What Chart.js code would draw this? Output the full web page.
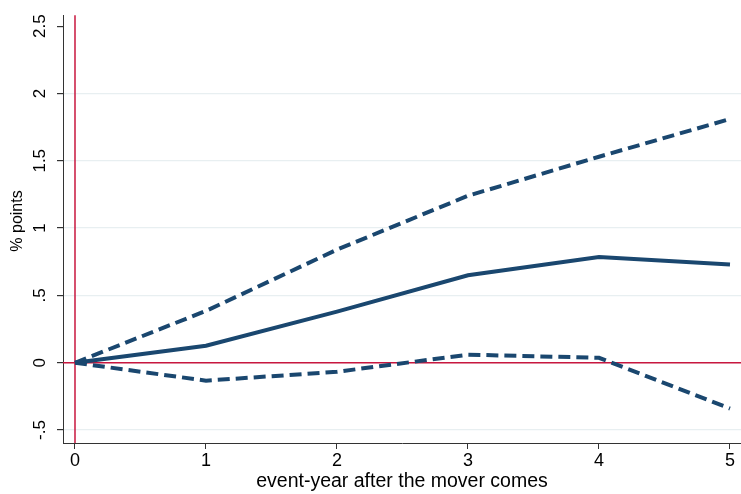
<!DOCTYPE html>
<html>
<head>
<meta charset="utf-8">
<script src="https://cdn.jsdelivr.net/npm/chart.js@4.4.0/dist/chart.umd.min.js"></script>
<style>
  html, body { margin: 0; padding: 0; background: #fff; }
  #wrap { width: 741px; height: 494px; }
</style>
</head>
<body>
<div id="wrap"><canvas id="c"></canvas></div>
<script>
// event years and estimates
const years = [0, 1, 2, 3, 4, 5];
const estimate = [0, 0.126, 0.38, 0.65, 0.785, 0.73];
const upperCI = [0, 0.385, 0.84, 1.24, 1.53, 1.81];
const lowerCI = [0, -0.133, -0.067, 0.06, 0.037, -0.34];

const xTicks = [0, 1, 2, 3, 4, 5];
const yTicks = [-0.5, 0, 0.5, 1, 1.5, 2, 2.5];
const yTickLabels = ['-.5', '0', '.5', '1', '1.5', '2', '2.5'];
const yTitle = '% points';
const xTitle = 'event-year after the mover comes';

const navy = '#1a476f';
const red = '#c8173f';
const font = 'Liberation Sans, Arial, Helvetica, sans-serif';

const pts = (ys) => years.map((x, i) => ({ x: x, y: ys[i] }));

// red reference lines at x=0 and y=0
const refLines = {
  id: 'refLines',
  beforeDatasetsDraw(chart) {
    const { ctx, chartArea, scales } = chart;
    const x0 = scales.x.getPixelForValue(0);
    const y0 = scales.y.getPixelForValue(0);
    ctx.save();
    ctx.strokeStyle = red;
    ctx.lineWidth = 1.5;
    ctx.beginPath();
    ctx.moveTo(x0, chartArea.top);
    ctx.lineTo(x0, chartArea.bottom);
    ctx.moveTo(chartArea.left, y0);
    ctx.lineTo(chartArea.right, y0);
    ctx.stroke();
    ctx.restore();
  }
};

// y title sits a little above the axis middle in the original
const yTitlePlugin = {
  id: 'yTitle',
  afterDraw(chart) {
    const ctx = chart.ctx;
    ctx.save();
    ctx.translate(18, 221);
    ctx.rotate(-Math.PI / 2);
    ctx.font = '16px ' + font;
    ctx.fillStyle = '#000';
    ctx.textAlign = 'center';
    ctx.textBaseline = 'middle';
    ctx.fillText(yTitle, 0, 0);
    ctx.restore();
  }
};

new Chart(document.getElementById('c'), {
  type: 'line',
  data: {
    datasets: [
      { data: pts(upperCI), borderColor: navy, borderWidth: 4, borderDash: [12, 6] },
      { data: pts(lowerCI), borderColor: navy, borderWidth: 4, borderDash: [12, 6] },
      { data: pts(estimate), borderColor: navy, borderWidth: 4 }
    ]
  },
  options: {
    responsive: true,
    maintainAspectRatio: false,
    animation: false,
    layout: { padding: { top: 10, right: 0, left: 0, bottom: 0 } },
    elements: { point: { radius: 0 }, line: { tension: 0, borderCapStyle: 'butt' } },
    plugins: { legend: { display: false }, tooltip: { enabled: false } },
    scales: {
      x: {
        type: 'linear',
        min: -0.0916,
        max: 5.084,
        afterBuildTicks: (s) => { s.ticks = xTicks.map(v => ({ value: v })); },
        afterFit: (s) => { s.height = 51; },
        grid: { drawOnChartArea: false, drawTicks: true, tickLength: 6, tickColor: '#333' },
        border: { display: true, color: '#333', width: 1 },
        ticks: { color: '#000', font: { family: font, size: 18 }, padding: 1, maxRotation: 0 },
        title: { display: true, text: xTitle, color: '#000',
                 font: { family: font, size: 19.5 }, padding: { top: 0, bottom: 1 } }
      },
      y: {
        min: -0.596,
        max: 2.581,
        afterBuildTicks: (s) => { s.ticks = yTicks.map(v => ({ value: v })); },
        afterFit: (s) => { s.width = 63; },
        grid: {
          color: (c) => (c.tick && c.tick.value === 2.5 ? 'rgba(0,0,0,0)' : '#e8eff1'),
          lineWidth: 1.2, drawTicks: true, tickLength: 6, tickColor: '#333'
        },
        border: { display: true, color: '#333', width: 1 },
        ticks: {
          color: '#000', font: { family: font, size: 17 }, padding: 5,
          minRotation: 90, maxRotation: 90, crossAlign: 'center',
          callback: (v) => { const i = yTicks.indexOf(v); return i >= 0 ? yTickLabels[i] : ''; }
        },
        title: { display: false }
      }
    }
  },
  plugins: [refLines, yTitlePlugin]
});
</script>
</body>
</html>
